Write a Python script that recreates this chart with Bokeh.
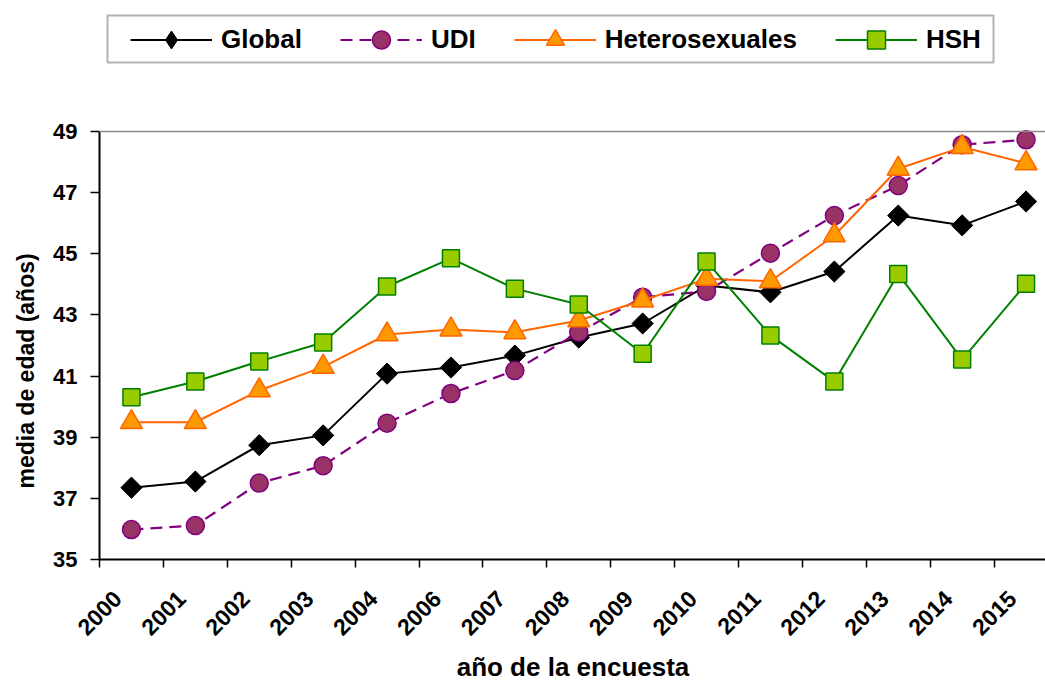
import math
from bokeh.plotting import figure
from bokeh.models import (Range1d, FixedTicker, Legend, LegendItem, Span, BoxAnnotation,
                          CustomJSTickFormatter, Title)
from bokeh.embed import file_html
from bokeh.resources import INLINE

years = ["2000", "2001", "2002", "2003", "2004", "2006", "2007", "2008",
         "2009", "2010", "2011", "2012", "2013", "2014", "2015"]
global_vals = [37.35, 37.55, 38.74, 39.06, 41.08, 41.28, 41.67, 42.26, 42.72,
               43.96, 43.74, 44.42, 46.25, 45.93, 46.71]
udi_vals = [35.98, 36.11, 37.50, 38.07, 39.46, 40.43, 41.18, 42.43, 43.58,
            43.77, 45.02, 46.25, 47.23, 48.57, 48.73]
hetero_vals = [39.49, 39.49, 40.53, 41.30, 42.36, 42.52, 42.43, 42.82, 43.47,
               44.18, 44.10, 45.60, 47.78, 48.49, 47.96]
hsh_vals = [40.31, 40.82, 41.48, 42.10, 43.93, 44.85, 43.86, 43.34, 41.73,
            44.75, 42.33, 40.82, 44.34, 41.54, 44.02]
y_ticks = [35, 37, 39, 41, 43, 45, 47, 49]
labels = ["Global", "UDI", "Heterosexuales", "HSH"]
x_title = "año de la encuesta"
y_title = "media de edad (años)"

FONT = "Liberation Sans"
n = len(years)
xs = list(range(n))

FRAME_W, FRAME_H = 947, 559
PX_PER_UNIT_Y = 428 / (y_ticks[-1] - y_ticks[0])
y_top = y_ticks[-1] + 131 / PX_PER_UNIT_Y   # empty band above the plot area for the legend
label_shift = -0.22

p = figure(frame_width=FRAME_W, frame_height=FRAME_H,
           x_range=Range1d(-0.5, n - 0.68), y_range=Range1d(y_ticks[0], y_top),
           output_backend="svg", toolbar_location=None,
           min_border_left=98, min_border_right=0, min_border_top=0, min_border_bottom=123)
p.outline_line_color = None
p.xgrid.visible = False
p.ygrid.visible = False
p.background_fill_color = "white"

# x axis
p.xaxis.ticker = FixedTicker(ticks=[i + label_shift for i in xs],
                             minor_ticks=[i - 0.5 for i in range(n + 1)])
p.xaxis.formatter = CustomJSTickFormatter(args=dict(labels=years, shift=label_shift),
                                          code="return labels[Math.round(tick - shift)];")
p.xaxis.major_label_orientation = math.pi / 4
p.xaxis.major_tick_out = 0
p.xaxis.major_tick_in = 0
p.xaxis.minor_tick_out = 8
p.xaxis.minor_tick_in = 0
p.xaxis.minor_tick_line_color = "black"
p.xaxis.minor_tick_line_width = 1.5
p.xaxis.axis_line_width = 2
p.xaxis.axis_line_color = "black"
p.xaxis.major_label_text_font = FONT
p.xaxis.major_label_text_font_style = "bold"
p.xaxis.major_label_text_font_size = "23px"
p.xaxis.major_label_text_color = "black"
p.xaxis.major_label_standoff = 27
p.xaxis.axis_label = x_title
p.xaxis.axis_label_text_font = FONT
p.xaxis.axis_label_text_font_style = "bold"
p.xaxis.axis_label_text_font_size = "26px"
p.xaxis.axis_label_text_color = "black"
p.xaxis.axis_label_standoff = 6

# y axis
p.yaxis.ticker = FixedTicker(ticks=y_ticks, minor_ticks=[])
p.yaxis.bounds = (y_ticks[0], y_ticks[-1])
p.yaxis.major_tick_out = 9
p.yaxis.major_tick_in = 0
p.yaxis.major_tick_line_width = 1.5
p.yaxis.major_tick_line_color = "black"
p.yaxis.axis_line_width = 2
p.yaxis.axis_line_color = "black"
p.yaxis.major_label_text_font = FONT
p.yaxis.major_label_text_font_style = "bold"
p.yaxis.major_label_text_font_size = "22px"
p.yaxis.major_label_text_color = "black"
p.yaxis.major_label_standoff = 13

p.add_layout(Title(text=y_title, align="left", offset=71, vertical_align="middle",
                   standoff=22, text_font=FONT, text_font_style="bold",
                   text_font_size="23px", text_color="black"), "left")

p.add_layout(Span(location=y_ticks[-1], dimension="width", line_color="#8c8c8c", line_width=1.5))

items = []
# Global
l1 = p.line(xs, global_vals, line_color="black", line_width=2)
p.scatter(xs, global_vals, marker="square", angle=math.pi / 4, size=15,
          fill_color="black", line_color="black", line_width=1)
# zero-size diamonds: invisible in the plot, only provide the legend key shape
m1_key = p.scatter(xs, global_vals, marker="diamond", size=0,
                   fill_color="black", line_color="black", line_width=1)
items.append(LegendItem(label=labels[0], renderers=[l1, m1_key]))
# UDI
l2 = p.line(xs, udi_vals, line_color="#800080", line_width=2.2, line_dash="12 7")
m2 = p.scatter(xs, udi_vals, marker="circle", size=18,
               fill_color="#993366", line_color="#800080", line_width=1.5)
items.append(LegendItem(label=labels[1], renderers=[l2, m2]))
# Heterosexuales
l3 = p.line(xs, hetero_vals, line_color="#FF6600", line_width=2)
m3 = p.scatter(xs, hetero_vals, marker="triangle", size=22,
               fill_color="#FF9900", line_color="#FF6600", line_width=1.5)
items.append(LegendItem(label=labels[2], renderers=[l3, m3]))
# HSH
l4 = p.line(xs, hsh_vals, line_color="#008000", line_width=2)
m4 = p.scatter(xs, hsh_vals, marker="square", size=17,
               fill_color="#99CC00", line_color="#008000", line_width=1.5)
items.append(LegendItem(label=labels[3], renderers=[l4, m4]))

legend = Legend(items=items, orientation="horizontal", location=(31, 497),
                glyph_width=82, glyph_height=45, label_standoff=9, spacing=38,
                padding=0, border_line_color=None, background_fill_alpha=0,
                label_text_font=FONT, label_text_font_style="bold",
                label_text_font_size="26px", label_text_color="black")
p.add_layout(legend, "center")

p.add_layout(BoxAnnotation(left=107, right=993, top=15, bottom=62,
                           left_units="canvas", right_units="canvas",
                           top_units="canvas", bottom_units="canvas",
                           fill_alpha=0, line_color="black", line_width=2))

open("out.html", "w").write(file_html(p, INLINE))
